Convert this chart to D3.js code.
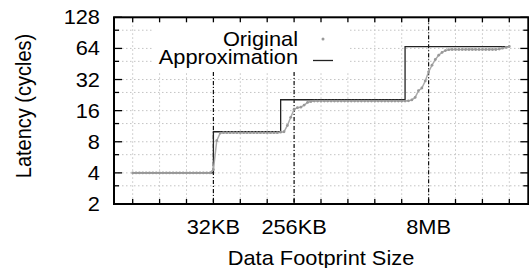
<!DOCTYPE html>
<html><head><meta charset="utf-8">
<script src="https://cdn.jsdelivr.net/npm/d3@7"></script>
<style>
html,body{margin:0;padding:0;background:#fff;}
svg{display:block;}
text{font-family:"Liberation Sans",Arial,Helvetica,sans-serif;fill:#000;}
</style></head>
<body>
<svg id="chart" width="529" height="268"></svg>
<script>
// ---- data (footprint as log2 of bytes, latency in cycles) ----
const footprintLog2 = [
  12,12.125,12.25,12.375,12.5,12.625,12.75,12.875,
  13,13.125,13.25,13.375,13.5,13.625,13.75,13.875,
  14,14.125,14.25,14.375,14.5,14.625,14.75,14.875,
  15,15.125,15.25,15.375,15.5,15.625,15.75,15.875,
  16,16.125,16.25,16.375,16.5,16.625,16.75,16.875,
  17,17.125,17.25,17.375,17.5,17.625,17.75,17.875,
  18,18.125,18.25,18.375,18.5,18.625,18.75,18.875,
  19,19.125,19.25,19.375,19.5,19.625,19.75,19.875,
  20,20.125,20.25,20.375,20.5,20.625,20.75,20.875,
  21,21.125,21.25,21.375,21.5,21.625,21.75,21.875,
  22,22.125,22.25,22.375,22.5,22.625,22.75,22.875,
  23,23.125,23.25,23.375,23.5,23.625,23.75,23.875,
  24,24.125,24.25,24.375,24.5,24.625,24.75,24.875,
  25,25.125,25.25,25.375,25.5,25.625,25.75,25.875,
  26
];
const originalLatency = [
  4,4,4,4,4,4,4,4,
  4,4,4,4,4,4,4,4,
  4,4,4,4,4,4,4,4,
  4.3,8.2,9.7,9.8,9.8,9.8,9.8,9.8,
  9.8,9.8,9.8,9.8,9.8,9.8,9.8,9.8,
  9.8,9.8,9.8,9.8,9.9,10.0,11.5,13.8,
  16.5,17.1,17.3,18.1,19.2,19.6,19.8,19.8,
  19.8,19.8,19.8,19.8,19.8,19.8,19.8,19.8,
  19.8,19.8,19.8,19.8,19.8,19.8,19.8,19.8,
  19.8,19.8,19.8,19.8,19.8,19.8,19.8,19.8,
  19.8,19.8,19.9,20.3,21.5,25.0,26.5,31,
  38,44,50,55,58.5,61,62.2,62.5,
  62.5,62.5,62.5,62.5,62.5,62.5,62.5,62.5,
  62.5,62.5,62.5,62.5,62.5,63.2,64.3,65.5,
  66.8
];
const approxBreaksLog2 = [12, 15, 17.5, 22.125, 26];
const approxLatency = [4, 10, 20.4, 66.5, 66.5];

const xTickLog2 = [12,13,14,15,16,17,18,19,20,21,22,23,24,25,26];
const xLabelLog2 = [15, 18, 23];
const xLabelText = ["32KB", "256KB", "8MB"];
const cacheLinesLog2 = [15, 18, 23];
const yMajorTicks = [2,4,8,16,32,64,128];
const yMinorTicks = [3,6,12,24,48,96];
const seriesNames = ["Original", "Approximation"];

// ---- layout ----
const svg = d3.select("#chart");
const L = 114, R = 528.3, T = 17.3, B = 204;
const SX = 1.09; // horizontal text stretch
const x = d3.scaleLog().base(2).domain([Math.pow(2,11.305), Math.pow(2,26.706)]).range([L, R]);
const y = d3.scaleLog().base(2).domain([2,128]).range([B, T]);
const px = e => x(Math.pow(2, e));

// grid
const grid = svg.append("g").attr("stroke","#c4c4c4").attr("stroke-width",1).attr("stroke-dasharray","1.5,2.5");
yMajorTicks.concat(yMinorTicks).forEach(v => {
  if (v <= 2 || v >= 128) return;
  grid.append("line").attr("x1",L).attr("x2",R).attr("y1",y(v)).attr("y2",y(v));
});
xTickLog2.forEach(e => {
  grid.append("line").attr("x1",px(e)).attr("x2",px(e)).attr("y1",T).attr("y2",B);
});

// legend background
svg.append("rect").attr("x",154).attr("y",21).attr("width",195).attr("height",51).attr("fill","#fff");

// cache boundary lines
cacheLinesLog2.forEach(e => {
  const top = (px(e) > 154 && px(e) < 349) ? 72 : T;
  svg.append("line").attr("x1",px(e)).attr("x2",px(e)).attr("y1",top).attr("y2",B)
    .attr("stroke","#111").attr("stroke-width",1.2).attr("stroke-dasharray","4,2,1,2");
});

// approximation
const approxData = approxBreaksLog2.map((e,i)=>[e, approxLatency[i]]);
svg.append("path").datum(approxData)
  .attr("d", d3.line().x(d=>px(d[0])).y(d=>y(d[1])).curve(d3.curveStepAfter))
  .attr("fill","none").attr("stroke","#222").attr("stroke-width",1.3);

// original
const origData = footprintLog2.map((e,i)=>[e, originalLatency[i]]);
svg.append("path").datum(origData)
  .attr("d", d3.line().x(d=>px(d[0])).y(d=>y(d[1])))
  .attr("fill","none").attr("stroke","#aaaaaa").attr("stroke-width",1.5);
svg.append("g").selectAll("circle").data(origData).join("circle")
  .attr("cx",d=>px(d[0])).attr("cy",d=>y(d[1])).attr("r",1.4).attr("fill","#999");

// frame
svg.append("rect").attr("x",L).attr("y",T).attr("width",R-L).attr("height",B-T)
  .attr("fill","none").attr("stroke","#000").attr("stroke-width",2);

// ticks
const tk = svg.append("g").attr("stroke","#000").attr("stroke-width",1.3);
xTickLog2.forEach(e => {
  tk.append("line").attr("x1",px(e)).attr("x2",px(e)).attr("y1",B).attr("y2",B-5);
  tk.append("line").attr("x1",px(e)).attr("x2",px(e)).attr("y1",T).attr("y2",T+5);
});
yMajorTicks.forEach(v => {
  tk.append("line").attr("x1",L).attr("x2",L+8).attr("y1",y(v)).attr("y2",y(v));
  tk.append("line").attr("x1",R).attr("x2",R-8).attr("y1",y(v)).attr("y2",y(v));
});
yMinorTicks.forEach(v => {
  tk.append("line").attr("x1",L).attr("x2",L+5).attr("y1",y(v)).attr("y2",y(v));
  tk.append("line").attr("x1",R).attr("x2",R-5).attr("y1",y(v)).attr("y2",y(v));
});

function txt(xp, yp, s, anchor, rot) {
  return svg.append("text")
    .attr("transform", `translate(${xp},${yp}) scale(${SX},1)` + (rot ? ` rotate(${rot})` : ""))
    .attr("text-anchor", anchor).attr("font-size", 20).text(s);
}

// y tick labels
yMajorTicks.forEach(v => txt(100/1*1, y(v)+7, v, "end"));
// x tick labels
xLabelLog2.forEach((e,i) => txt(px(e), 234, xLabelText[i], "middle"));

// axis titles
txt(321, 265, "Data Footprint Size", "middle");
txt(31, 106, "Latency (cycles)", "middle", -90);

// legend
txt(298, 45.5, seriesNames[0], "end");
txt(298, 64, seriesNames[1], "end");
svg.append("circle").attr("cx",323).attr("cy",39).attr("r",1.5).attr("fill","#999");
svg.append("line").attr("x1",313).attr("x2",333).attr("y1",60.5).attr("y2",60.5)
  .attr("stroke","#222").attr("stroke-width",1.3);
</script>
</body></html>
